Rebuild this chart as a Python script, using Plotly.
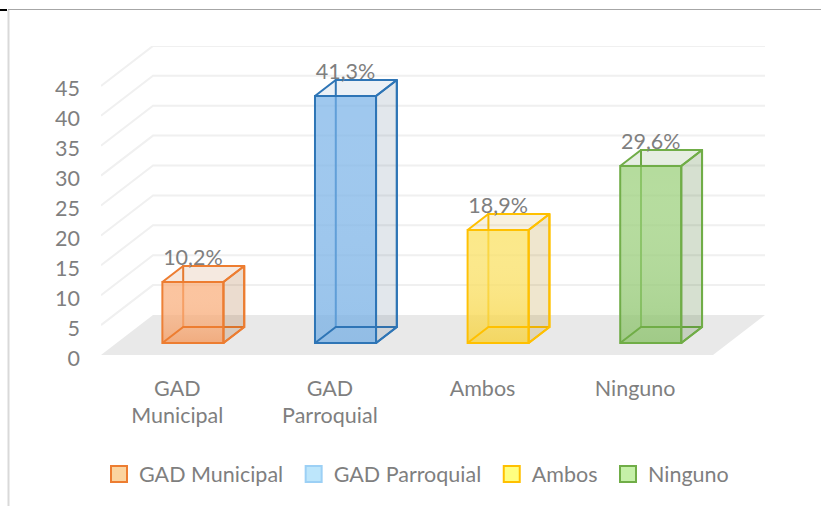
import plotly.graph_objects as go

categories = ["GAD Municipal", "GAD Parroquial", "Ambos", "Ninguno"]
tick_text = ["GAD<br>Municipal", "GAD<br>Parroquial", "Ambos", "Ninguno"]
values = [10.2, 41.3, 18.9, 29.6]
value_labels = ["10,2%", "41,3%", "18,9%", "29,6%"]
y_ticks = [0, 5, 10, 15, 20, 25, 30, 35, 40, 45]

edge_colors = ["#ED7D31", "#2E75B6", "#FFC000", "#70AD47"]
front_colors = ["rgba(250,170,115,0.7)", "rgba(118,176,231,0.7)", "rgba(250,222,85,0.7)", "rgba(150,205,115,0.7)"]
shade_colors = ["rgba(225,110,40,0.22)", "rgba(40,110,180,0.06)", "rgba(240,180,0,0.25)", "rgba(70,130,40,0.14)"]
side_colors = ["rgba(155,80,15,0.2)", "rgba(60,95,130,0.15)", "rgba(175,130,10,0.2)", "rgba(70,115,40,0.22)"]
top_colors = ["rgba(190,110,50,0.15)", "rgba(80,130,170,0.11)", "rgba(210,160,50,0.15)", "rgba(90,140,60,0.15)"]
legend_fill = ["#FBD49F", "#BDE6FB", "#FFFF80", "#C5F0A8"]
legend_line = ["#ED7D31", "#9CD0F5", "#FFC000", "#70AD47"]

GREY = "#7F7F7F"
FONT = "Lato"
FONT_SIZE = 21.5

# fake 3D: depth 0..1 moves a point right and up, in axis units
DX = 52 / 152.6
DY = 40 / 5.98
BAR_W = 0.4
NEAR, FAR = 0.3, 0.7
X_MIN, X_MAX = -0.5, 3.851
Y_MAX = 309 / 5.98


def poly(xs, ys, fill, line):
    return go.Scatter(x=xs + xs[:1], y=ys + ys[:1], mode="lines", fill="toself",
                      fillcolor=fill, line=dict(color=line, width=2),
                      hoverinfo="skip", showlegend=False)


fig = go.Figure()

for i, v in enumerate(values):
    left = i + NEAR * DX - BAR_W / 2
    right = left + BAR_W
    base_n, base_f = NEAR * DY, FAR * DY
    shift_x = (FAR - NEAR) * DX
    # back face outline
    fig.add_trace(go.Bar(x=[i + FAR * DX], y=[v], base=[base_f], width=BAR_W,
                         marker=dict(color="rgba(0,0,0,0)", line=dict(color=edge_colors[i], width=2)),
                         hoverinfo="skip", showlegend=False))
    # front face
    fig.add_trace(go.Bar(x=[i + NEAR * DX], y=[v], base=[base_n], width=BAR_W,
                         marker=dict(color=front_colors[i], line=dict(color=edge_colors[i], width=2)),
                         hoverinfo="skip", showlegend=False))
    # darker towards the bottom of the front face
    fig.add_trace(go.Scatter(x=[left, right, right, left, left],
                             y=[base_n, base_n, base_n + v, base_n + v, base_n],
                             mode="lines", fill="toself", line=dict(width=0),
                             fillgradient=dict(type="vertical",
                                               colorscale=[[0, shade_colors[i]], [1, "rgba(255,255,255,0)"]]),
                             hoverinfo="skip", showlegend=False))
    # bottom
    fig.add_trace(poly([left, right, right + shift_x, left + shift_x],
                       [base_n, base_n, base_f, base_f], "rgba(0,0,0,0)", edge_colors[i]))
    # right side
    fig.add_trace(poly([right, right + shift_x, right + shift_x, right],
                       [base_n, base_f, base_f + v, base_n + v], side_colors[i], edge_colors[i]))
    # top
    fig.add_trace(poly([left, right, right + shift_x, left + shift_x],
                       [base_n + v, base_n + v, base_f + v, base_f + v], top_colors[i], edge_colors[i]))

# data labels
fig.add_trace(go.Scatter(x=[i + NEAR * DX for i in range(len(values))],
                         y=[v + NEAR * DY + 3.7 for v in values],
                         mode="text", text=value_labels, textposition="middle center",
                         textfont=dict(color=GREY, size=FONT_SIZE, family=FONT),
                         hoverinfo="skip", showlegend=False))

# legend only traces
for i, name in enumerate(categories):
    fig.add_trace(go.Scatter(x=[None], y=[None], mode="markers", name=name + "\u00a0",
                             marker=dict(symbol="square", size=16, color=legend_fill[i],
                                         line=dict(color=legend_line[i], width=2))))


def px(x):
    return (x - 101) / 664


def py(y):
    return (355 - y) / 309


# floor and back wall sit under the bars
back_shapes = [dict(type="path", xref="x", yref="y", layer="below",
                    path=f"M {X_MIN} 0 L {X_MIN + DX} {DY} L {X_MAX} {DY} L {X_MAX - DX} 0 Z",
                    fillcolor="#E9E9E9", line=dict(width=0))]
for t in y_ticks[1:]:
    back_shapes.append(dict(type="path", xref="x", yref="y", layer="below",
                            path=f"M {X_MIN} {t} L {X_MIN + DX} {t + DY} L {X_MAX} {t + DY}",
                            line=dict(color="#F0F0F0", width=2)))

frame_shapes = [
    dict(type="line", xref="paper", yref="paper", x0=px(8), x1=px(821), y0=py(9.5), y1=py(9.5),
         line=dict(color="#A6A6A6", width=1)),
    dict(type="line", xref="paper", yref="paper", x0=px(0), x1=px(7), y0=py(10), y1=py(10),
         line=dict(color="black", width=2)),
    dict(type="line", xref="paper", yref="paper", x0=px(8.5), x1=px(8.5), y0=py(10), y1=py(506),
         line=dict(color="#D9D9D9", width=2)),
]

fig.update_layout(
    width=821, height=506,
    margin=dict(l=101, r=56, t=46, b=151, autoexpand=False),
    paper_bgcolor="white", plot_bgcolor="rgba(0,0,0,0)",
    barmode="overlay",
    font=dict(family=FONT, color=GREY, size=FONT_SIZE),
    xaxis=dict(range=[X_MIN, X_MAX], tickvals=list(range(4)), ticktext=tick_text,
               showgrid=False, zeroline=False, showline=False, ticks="", ticklabelstandoff=18),
    yaxis=dict(range=[0, Y_MAX], tickvals=y_ticks, showgrid=False, zeroline=False,
               showline=False, ticks="", ticklabelstandoff=20, ticklabelshift=3),
    legend=dict(orientation="h", x=px(99), xanchor="left", y=py(474), yanchor="middle",
                font=dict(size=FONT_SIZE, color=GREY, family=FONT), bgcolor="rgba(0,0,0,0)", itemsizing="trace"),
    shapes=back_shapes + frame_shapes,
)

fig.write_html("out.html", config=dict(displayModeBar=False), post_script="document.body.style.margin='0';")
